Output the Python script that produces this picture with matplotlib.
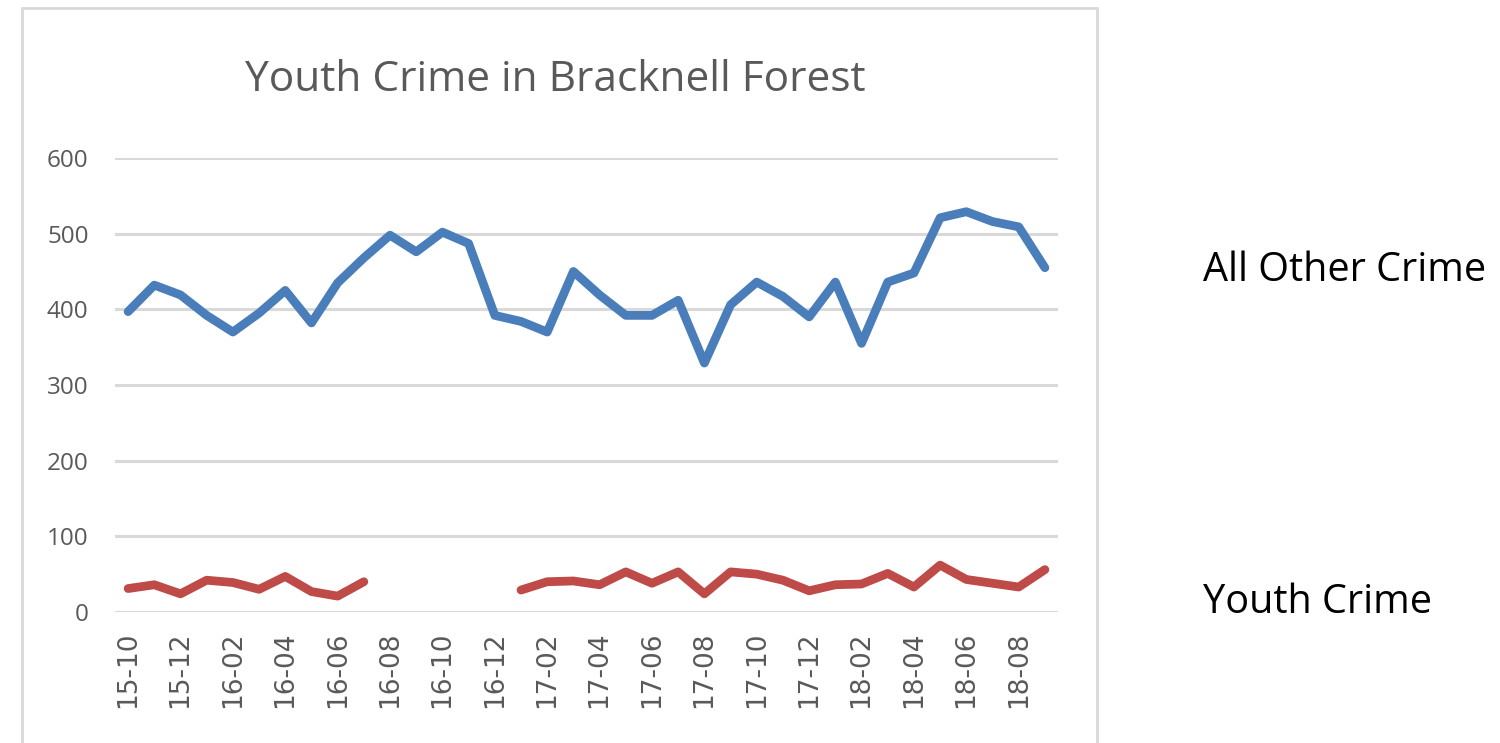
import matplotlib
matplotlib.use('Agg')
import numpy as np
import matplotlib.pyplot as plt
from matplotlib.patches import Rectangle

# monthly labels 2015-10 .. 2018-09
months = ['15-10','15-11','15-12','16-01','16-02','16-03','16-04','16-05','16-06',
          '16-07','16-08','16-09','16-10','16-11','16-12','17-01','17-02','17-03',
          '17-04','17-05','17-06','17-07','17-08','17-09','17-10','17-11','17-12',
          '18-01','18-02','18-03','18-04','18-05','18-06','18-07','18-08','18-09']

other_crime = [397, 432, 419, 392, 370, 395, 425, 382, 435, 468, 498, 476,
               502, 487, 392, 384, 370, 450, 419, 392, 392, 412, 329, 406,
               436, 417, 390, 436, 355, 436, 448, 521, 529, 516, 509, 455]

nan = np.nan
youth_crime = [31, 36, 24, 42, 39, 30, 47, 27, 21, 40, nan, nan,
               nan, nan, nan, 29, 40, 41, 36, 53, 38, 53, 24, 53,
               50, 42, 28, 36, 37, 51, 33, 62, 43, 38, 33, 56]

yticks = [0, 100, 200, 300, 400, 500, 600]

fig = plt.figure(figsize=(15, 7.43), dpi=100)
fig.patch.set_facecolor('white')

# chart frame like excel
fig.patches.append(Rectangle((22/1500, -0.1), (1097-22)/1500, 1.1 - 8/743,
                             transform=fig.transFigure, fill=False,
                             edgecolor='#d9d9d9', linewidth=2))

ax = fig.add_axes([115/1500, 1 - 612/743, (1058-115)/1500, (612-158)/743])
x = np.arange(len(months))
ax.plot(x, other_crime, color='#4a7ebb', linewidth=6.3, solid_joinstyle='round',
        solid_capstyle='round', zorder=3)
ax.plot(x, youth_crime, color='#be4b48', linewidth=6.3, solid_joinstyle='round',
        solid_capstyle='round', zorder=3)

ax.set_xlim(-0.5, len(months) - 0.5)
ax.set_ylim(0, 600)
ax.set_yticks(yticks)
ax.set_yticklabels([str(v) for v in yticks], family='Open Sans', fontsize=17.5, color='#595959')
ax.set_xticks(x[::2])
ax.set_xticklabels(months[::2], rotation=90, family='DejaVu Sans', fontsize=19, color='#595959')
ax.tick_params(length=0, pad=14)
ax.tick_params(axis='y', pad=19)
for s in ax.spines.values():
    s.set_visible(False)
ax.grid(axis='y', color='#d9d9d9', linewidth=2.2)
ax.set_axisbelow(True)

fig.text(555/1500, 1 - 80/743, 'Youth Crime in Bracknell Forest', ha='center', va='center',
         family='Open Sans', fontsize=30.5, color='#595959')
fig.text(1203/1500, 1 - 271/743, 'All Other Crime', ha='left', va='center',
         family='Open Sans', fontsize=28.5, color='black')
fig.text(1203/1500, 1 - 603/743, 'Youth Crime', ha='left', va='center',
         family='Open Sans', fontsize=28.5, color='black')

fig.savefig('out.png', dpi=100)
